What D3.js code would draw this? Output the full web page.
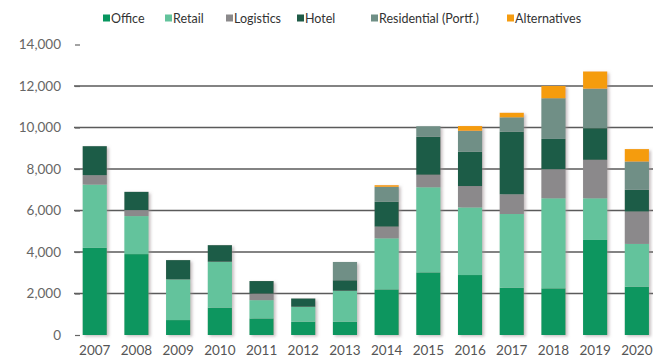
<!DOCTYPE html>
<html>
<head>
<meta charset="utf-8">
<script src="https://cdn.jsdelivr.net/npm/d3@7"></script>
<style>
  html, body { margin: 0; padding: 0; background: #fff; }
  svg { display: block; font-family: Lato, "Open Sans", sans-serif; }
</style>
</head>
<body>
<svg id="chart" width="653" height="360"></svg>
<script>
// Investment volumes by sector, 2007-2020
const years = ["2007","2008","2009","2010","2011","2012","2013","2014","2015","2016","2017","2018","2019","2020"];
const office       = [4200, 3900,  720, 1320,  800,  640,  640, 2200, 3020, 2890, 2280, 2250, 4580, 2330];
const retail       = [3050, 1830, 1960, 2210,  880,  720, 1490, 2460, 4100, 3260, 3550, 4340, 2010, 2060];
const logistics    = [ 450,  290,    0,    0,  310,    0,    0,  560,  600, 1030,  950, 1400, 1850, 1560];
const hotel        = [1400,  880,  930,  800,  610,  400,  510, 1200, 1840, 1650, 3020, 1460, 1530, 1050];
const residential  = [   0,    0,    0,    0,    0,    0,  880,  720,  500, 1010,  690, 1960, 1900, 1360];
const alternatives = [   0,    0,    0,    0,    0,    0,    0,   80,    0,  230,  220,  590,  830,  600];
const seriesNames  = ["Office", "Retail", "Logistics", "Hotel", "Residential (Portf.)", "Alternatives"];
const yTicks       = [0, 2000, 4000, 6000, 8000, 10000, 12000, 14000];

const colors = ["#07965f", "#63c39c", "#8b898b", "#1f5b47", "#6f8f86", "#f59c10"];
const seriesValues = [office, retail, logistics, hotel, residential, alternatives];

const rows = years.map((yr, i) => {
  const r = { year: yr };
  seriesNames.forEach((n, k) => { r[n] = seriesValues[k][i]; });
  return r;
});

const svg = d3.select("#chart");

const x = d3.scaleBand()
  .domain(years)
  .range([61.8, 669.8])
  .paddingInner(0.42)
  .paddingOuter(0.5);

const y = d3.scaleLinear()
  .domain([0, 14000])
  .range([335, 44.5]);

// drop shadow behind the bars
const defs = svg.append("defs");
const f = defs.append("filter").attr("id", "shadow")
  .attr("x", "-20%").attr("y", "-5%").attr("width", "150%").attr("height", "115%");
f.append("feDropShadow")
  .attr("dx", 2).attr("dy", 1.5).attr("stdDeviation", 1.4)
  .attr("flood-color", "#9a8a8e").attr("flood-opacity", 0.55);

// gridlines
svg.append("g")
  .selectAll("line")
  .data(yTicks.filter(t => t > 0 && t < 14000))
  .join("line")
  .attr("x1", 74).attr("x2", 653)
  .attr("y1", d => y(d)).attr("y2", d => y(d))
  .attr("stroke", "#5a5a5a").attr("stroke-width", 1.3);

// y axis: labels with short ticks, no domain line
const yAxis = svg.append("g")
  .attr("transform", "translate(80,0)")
  .call(d3.axisLeft(y).tickValues(yTicks).tickSize(5).tickPadding(14)
    .tickFormat(d3.format(",")));
yAxis.select(".domain").remove();
yAxis.selectAll(".tick line").attr("stroke", "#666").attr("stroke-width", 1.2);
yAxis.selectAll(".tick text")
  .attr("fill", "#666").attr("font-size", 13.5).attr("font-family", "Lato, sans-serif");

// stacked bars
const stacked = d3.stack().keys(seriesNames)(rows);
const barLayer = svg.append("g").attr("filter", "url(#shadow)");
barLayer.selectAll("g")
  .data(stacked)
  .join("g")
  .attr("fill", (d, i) => colors[i])
  .selectAll("rect")
  .data(d => d.filter(s => s[1] - s[0] > 0))
  .join("rect")
  .attr("x", d => x(d.data.year))
  .attr("width", x.bandwidth())
  .attr("y", d => y(d[1]))
  .attr("height", d => y(d[0]) - y(d[1]));

// x axis labels
const xAxis = svg.append("g")
  .attr("transform", "translate(0,335)")
  .call(d3.axisBottom(x).tickSize(0).tickPadding(10));
xAxis.select(".domain").remove();
xAxis.selectAll(".tick text")
  .attr("fill", "#555").attr("font-size", 13.5).attr("font-family", "Lato, sans-serif");

// legend
const legendX = [103, 165, 226, 297, 371, 507];
const legend = svg.append("g").attr("transform", "translate(0,18)");
const items = legend.selectAll("g")
  .data(seriesNames)
  .join("g")
  .attr("transform", (d, i) => `translate(${legendX[i]},0)`);
items.append("rect")
  .attr("x", 0).attr("y", -3.5).attr("width", 7).attr("height", 7)
  .attr("fill", (d, i) => colors[i]);
items.append("text")
  .attr("x", 8).attr("y", 4.5)
  .attr("font-size", 12.5).attr("fill", "#333")
  .text(d => d);
</script>
</body>
</html>
